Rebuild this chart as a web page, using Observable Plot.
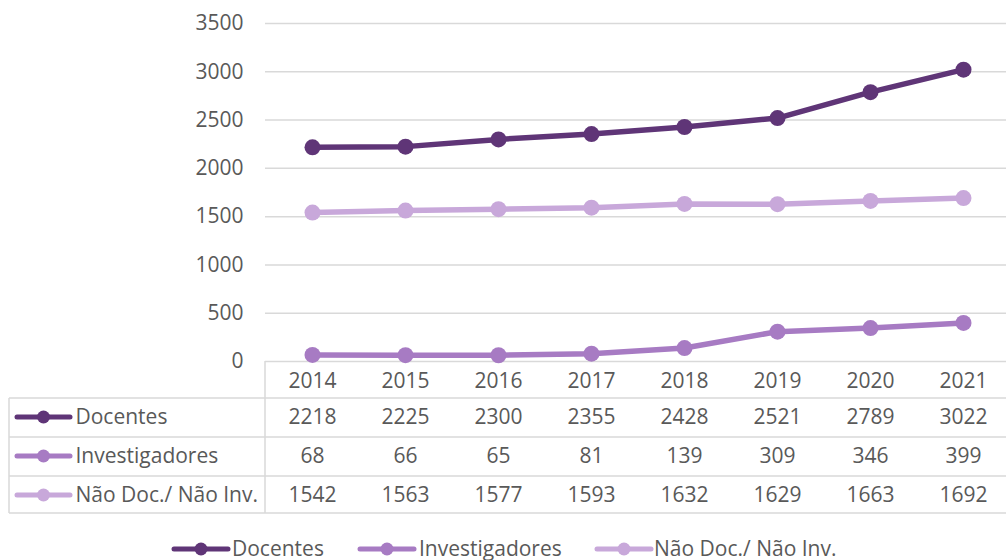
<!DOCTYPE html>
<html><head><meta charset="utf-8">
<script src="https://cdn.jsdelivr.net/npm/d3@7"></script>
<script src="https://cdn.jsdelivr.net/npm/@observablehq/plot@0.6"></script>
<style>body{margin:0;background:#fff}</style>
</head><body><div id="chart"></div>
<script>
const years = [2014, 2015, 2016, 2017, 2018, 2019, 2020, 2021];
const seriesNames = ["Docentes", "Investigadores", "Não Doc./ Não Inv."];
const docentes = [2218, 2225, 2300, 2355, 2428, 2521, 2789, 3022];
const investigadores = [68, 66, 65, 81, 139, 309, 346, 399];
const naoDoc = [1542, 1563, 1577, 1593, 1632, 1629, 1663, 1692];
const colors = ["#5f3577", "#a77bc3", "#c8a8da"];
const yTicks = [0, 500, 1000, 1500, 2000, 2500, 3000, 3500];

const seriesValues = [docentes, investigadores, naoDoc];
const data = seriesNames.flatMap((s, i) => years.map((y, j) => ({series: s, year: String(y), value: seriesValues[i][j], row: i})));

const textColor = "#595959";
const gridColor = "#d9d9d9";
const rowDy = [56, 95, 134];

const marks = [
  Plot.ruleY(yTicks, {stroke: gridColor, strokeWidth: 1.5}),
  Plot.axisY({ticks: yTicks, tickFormat: d => String(d), tickSize: 0, tickPadding: 22, label: null, fill: textColor}),
  Plot.text(years.map(String), {x: d => d, text: d => d, frameAnchor: "bottom", lineAnchor: "middle", dy: 20, fill: textColor})
];
seriesNames.forEach((s, i) => {
  const rows = data.filter(d => d.row === i);
  marks.push(Plot.line(rows, {x: "year", y: "value", stroke: colors[i], strokeWidth: 5.5, strokeLinejoin: "round"}));
  marks.push(Plot.dot(rows, {x: "year", y: "value", fill: colors[i], r: 8}));
  marks.push(Plot.text(rows, {x: "year", text: d => String(d.value), frameAnchor: "bottom", lineAnchor: "middle", dy: rowDy[i], fill: textColor}));
  marks.push(Plot.text([s], {text: d => d, frameAnchor: "bottom-left", lineAnchor: "middle", dx: 75 - 265, dy: rowDy[i], textAnchor: "start", fill: textColor}));
});

const chart = Plot.plot({
  width: 1006,
  height: 560,
  marginLeft: 265,
  marginRight: 0,
  marginTop: 23,
  marginBottom: 199,
  style: {fontFamily: "'Open Sans', sans-serif", fontSize: "21px", color: textColor, background: "#fff"},
  x: {type: "point", domain: years.map(String), range: [312, 963], padding: 0, axis: null},
  y: {domain: [0, 3500], axis: null},
  marks
});
document.getElementById("chart").appendChild(chart);

// table grid, row swatches and bottom legend
const svg = d3.select(chart);
const g = svg.append("g");
const yBase = chart.scale("y").apply(0);
const rowLines = [398, 437, 476, 513];
rowLines.forEach(y => g.append("line").attr("x1", 9).attr("x2", 1006).attr("y1", y).attr("y2", y).attr("stroke", gridColor).attr("stroke-width", 1.5));
g.append("line").attr("x1", 265).attr("x2", 265).attr("y1", yBase).attr("y2", 513).attr("stroke", gridColor).attr("stroke-width", 1.5);
g.append("line").attr("x1", 9).attr("x2", 9).attr("y1", 398).attr("y2", 513).attr("stroke", gridColor).attr("stroke-width", 1.5);

function swatch(x1, x2, cy, color) {
  g.append("line").attr("x1", x1).attr("x2", x2).attr("y1", cy).attr("y2", cy).attr("stroke", color).attr("stroke-width", 5).attr("stroke-linecap", "round");
  g.append("circle").attr("cx", (x1 + x2) / 2).attr("cy", cy).attr("r", 6.5).attr("fill", color);
}
seriesNames.forEach((s, i) => swatch(17, 70, yBase + rowDy[i], colors[i]));

const legendX = [[174, 228, 232], [360, 414, 419], [597, 651, 654]];
seriesNames.forEach((s, i) => {
  const [a, b, t] = legendX[i];
  swatch(a, b, 549, colors[i]);
  g.append("text").attr("x", t).attr("y", 549).attr("dy", "0.35em").attr("text-anchor", "start").attr("fill", textColor).text(s);
});
</script>
</body></html>
